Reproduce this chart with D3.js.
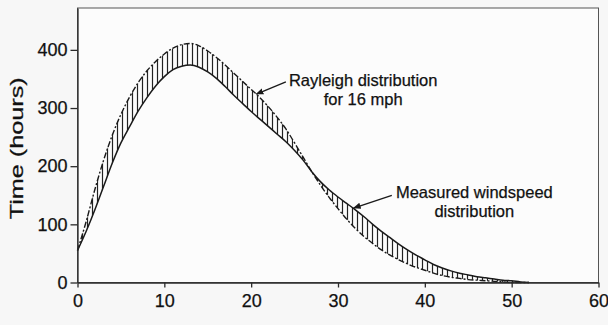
<!DOCTYPE html>
<html>
<head>
<meta charset="utf-8">
<script src="https://cdn.jsdelivr.net/npm/d3@7"></script>
<style>
  body { margin: 0; background: #f7f7f7; }
  svg { display: block; font-family: "Liberation Sans", Arial, Helvetica, sans-serif; }
  .axis text { font-size: 18px; fill: #111; stroke: #111; stroke-width: 0.25; }
  .axis path, .axis line { stroke: #2a2a2a; stroke-width: 1.3; }
  .note { font-size: 16.5px; fill: #111; stroke: #111; stroke-width: 0.25; }
</style>
</head>
<body>
<div id="chart"></div>
<script>
// wind speed (mph) on the x axis
const speed = [0,1,2,3,4,5,6,7,8,9,10,11,12,13,14,15,16,17,18,19,20,21,22,23,24,25,
  26,27,28,29,30,31,32,33,34,35,36,37,38,39,40,41,42,43,44,45,46,47,48,49,50,51,52];

// hours per year
const rayleigh = [55,105,160,210,253,289,319,344,364,380,393,403,409,411,407,398,387,374,360,346,
  332,318,302,284,264,240,215,190,167,146,127,109,93,79,67,56,47,39,32,26,
  21,16,12,9,7,5,4,3,2,1,0,0,0];
const measured = [55,88,125,165,205,240,268,295,318,338,354,366,372,374,370,362,351,337,322,308,
  294,281,268,255,242,227,210,190,173,159,147,136,125,113,100,88,77,66,56,47,
  39,31,25,20,16,13,10,8,6,4,3,1,0];

const xTicks = [0,10,20,30,40,50,60];
const yTicks = [0,100,200,300,400];
const yLabel = "Time (hours)";

const rayleighNote = ["Rayleigh distribution", "for 16 mph"];
const measuredNote = ["Measured windspeed", "distribution"];

const width = 608, height = 325;
const margin = {top: 8, right: 9.5, bottom: 42.5, left: 77.5};

const x = d3.scaleLinear().domain([0, 60]).range([margin.left, width - margin.right]);
const y = d3.scaleLinear().domain([0, 472]).range([height - margin.bottom, margin.top]);

const svg = d3.select("#chart").append("svg")
    .attr("width", width)
    .attr("height", height);

const defs = svg.append("defs");
const hatch = defs.append("pattern")
    .attr("id", "hatch")
    .attr("patternUnits", "userSpaceOnUse")
    .attr("width", 5)
    .attr("height", 10);
hatch.append("line")
    .attr("x1", 2.5).attr("x2", 2.5)
    .attr("y1", 0).attr("y2", 10)
    .attr("stroke", "#222")
    .attr("stroke-width", 1.2);

defs.append("marker")
    .attr("id", "arrow")
    .attr("viewBox", "0 0 10 10")
    .attr("refX", 9).attr("refY", 5)
    .attr("markerWidth", 6).attr("markerHeight", 6)
    .attr("orient", "auto")
  .append("path")
    .attr("d", "M0,1L10,5L0,9z")
    .attr("fill", "#1a1a1a");

// plot background and top/right frame
svg.append("rect")
    .attr("x", x(0)).attr("y", y(472))
    .attr("width", x(60) - x(0))
    .attr("height", y(0) - y(472))
    .attr("fill", "#fcfcfc")
    .attr("stroke", "#555")
    .attr("stroke-width", 1);

const rows = speed.map((s, i) => ({s: s, r: rayleigh[i], m: measured[i]}));

const band = d3.area()
    .x(d => x(d.s))
    .y0(d => y(d.m))
    .y1(d => y(d.r))
    .curve(d3.curveMonotoneX);

svg.append("path")
    .datum(rows)
    .attr("d", band)
    .attr("fill", "url(#hatch)");

const lineR = d3.line().x(d => x(d.s)).y(d => y(d.r)).curve(d3.curveMonotoneX);
const lineM = d3.line().x(d => x(d.s)).y(d => y(d.m)).curve(d3.curveMonotoneX);

svg.append("path")
    .datum(rows)
    .attr("d", lineM)
    .attr("fill", "none")
    .attr("stroke", "#1a1a1a")
    .attr("stroke-width", 1.5);

svg.append("path")
    .datum(rows)
    .attr("d", lineR)
    .attr("fill", "none")
    .attr("stroke", "#1a1a1a")
    .attr("stroke-width", 1.4)
    .attr("stroke-dasharray", "6,2,2,2");

// axes
svg.append("g")
    .attr("class", "axis")
    .attr("transform", "translate(0," + y(0) + ")")
    .call(d3.axisBottom(x).tickValues(xTicks).tickSize(5).tickSizeOuter(0).tickPadding(7));

svg.append("g")
    .attr("class", "axis")
    .attr("transform", "translate(" + x(0) + ",0)")
    .call(d3.axisLeft(y).tickValues(yTicks).tickSize(7).tickSizeOuter(0).tickPadding(3));

svg.append("text")
    .attr("class", "note")
    .attr("transform", "translate(23," + ((y(0) + y(472)) / 2 + 3) + ") rotate(-90)")
    .attr("text-anchor", "middle")
    .attr("textLength", 142)
    .attr("lengthAdjust", "spacingAndGlyphs")
    .style("font-size", "18.5px")
    .text(yLabel);

// annotations, placed in data units
const notes = [
  {lines: rayleighNote, tx: 32.9, ty: 338, from: [24.0, 345], to: [20.6, 324]},
  {lines: measuredNote, tx: 45.7, ty: 145, from: [36.2, 150], to: [31.8, 128]}
];

notes.forEach(n => {
  n.lines.forEach((l, i) => {
    svg.append("text")
        .attr("class", "note")
        .attr("text-anchor", "middle")
        .attr("x", x(n.tx))
        .attr("y", y(n.ty) + i * 19)
        .text(l);
  });
  svg.append("line")
      .attr("x1", x(n.from[0])).attr("y1", y(n.from[1]))
      .attr("x2", x(n.to[0])).attr("y2", y(n.to[1]))
      .attr("stroke", "#1a1a1a")
      .attr("stroke-width", 1.3)
      .attr("marker-end", "url(#arrow)");
});
</script>
</body>
</html>
